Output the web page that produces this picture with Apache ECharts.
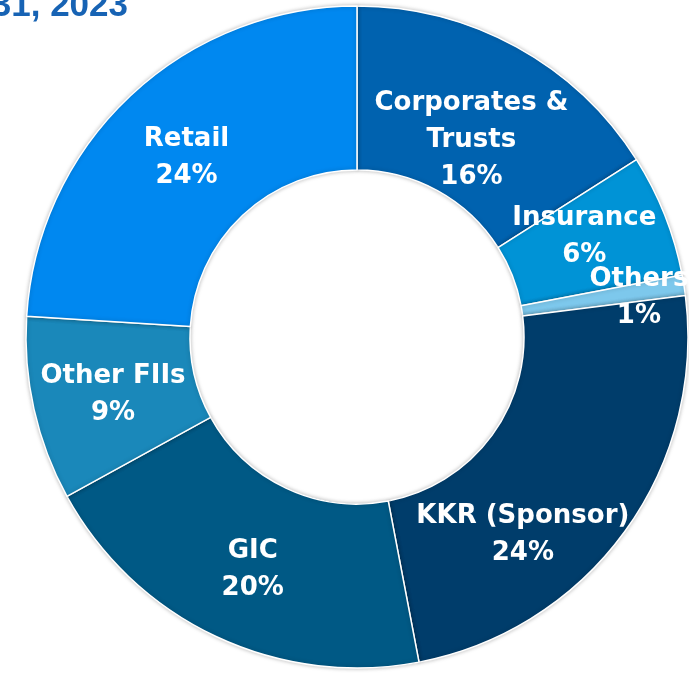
<!DOCTYPE html>
<html>
<head>
<meta charset="utf-8">
<script src="https://cdn.jsdelivr.net/npm/echarts@6/dist/echarts.min.js"></script>
<style>
  html, body { margin: 0; padding: 0; background: #fff; }
  #main { width: 689px; height: 673px; }
</style>
</head>
<body>
<div id="main"></div>
<script>
// holder categories, clockwise from 12 o'clock
var categories = ['Corporates &\nTrusts', 'Insurance', 'Others', 'KKR (Sponsor)', 'GIC', 'Other FIIs', 'Retail'];
var shares = [16, 6, 1, 24, 20, 9, 24];
var sliceColors = ['#0062AF', '#0093D6', '#7DC8EC', '#003D6B', '#005985', '#1A88BA', '#0088F0'];

// nudge labels to where the reference has them
var labelNudge = {
    'Corporates &\nTrusts': [-7, 24],
    'Insurance': [-7, -7],
    'Others': [33, 0],
    'KKR (Sponsor)': [-38, 50],
    'GIC': [3, 5],
    'Other FIIs': [1, 5],
    'Retail': [2, 4]
};
// Other FIIs label jumps around with offsets, so pin it after layout
var labelPin = { 'Other FIIs': [113, 395] };

var myChart = echarts.init(document.getElementById('main'));

var pieData = [];
for (var i = 0; i < categories.length; i++) {
    pieData.push({
        name: categories[i],
        value: shares[i],
        itemStyle: { color: sliceColors[i] },
        label: { offset: labelNudge[categories[i]] || [0, 0] }
    });
}

var option = {
    animation: false,
    graphic: [{
        type: 'text',
        x: 128,
        y: -11,
        style: {
            text: '31, 2023',
            fill: '#1763B4',
            align: 'right',
            verticalAlign: 'top',
            font: 'bold 35px "Liberation Sans", Arial, sans-serif'
        }
    }],
    series: [{
        type: 'pie',
        center: [357, 337],
        radius: [167, 331],
        startAngle: 90,
        clockwise: true,
        avoidLabelOverlap: false,
        data: pieData,
        itemStyle: {
            borderColor: '#ffffff',
            borderWidth: 1.5,
            shadowBlur: 4,
            shadowColor: 'rgba(0,0,0,0.25)'
        },
        labelLayout: function(p) {
            var pin = labelPin[categories[p.dataIndex]];
            if (pin) {
                return {
                    hideOverlap: false,
                    x: pin[0],
                    y: pin[1],
                    align: 'center',
                    verticalAlign: 'middle'
                };
            }
            return { hideOverlap: false };
        },
        label: {
            show: true,
            position: 'inside',
            color: '#ffffff',
            fontFamily: '"DejaVu Sans", sans-serif',
            fontWeight: 'bold',
            fontSize: 26,
            lineHeight: 37,
            formatter: function(p) {
                return p.name + '\n' + p.value + '%';
            }
        },
        labelLine: { show: false },
        emphasis: { disabled: true }
    }]
};
myChart.setOption(option);
</script>
</body>
</html>
